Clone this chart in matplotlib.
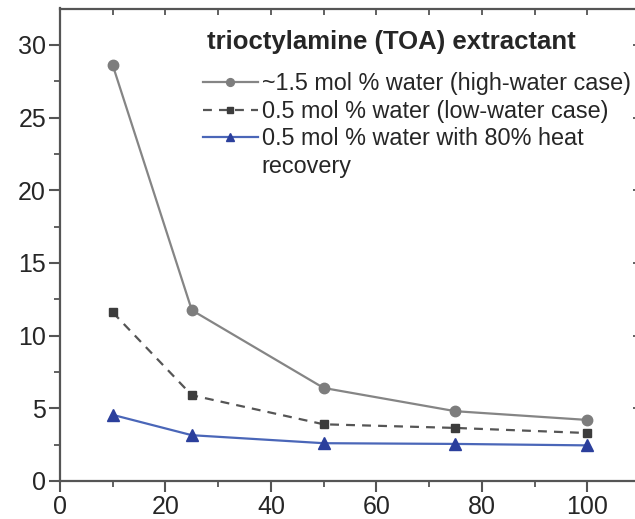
import matplotlib
matplotlib.use("Agg")
import matplotlib.pyplot as plt
from matplotlib.lines import Line2D

plt.rcParams['font.family'] = ['Liberation Sans', 'DejaVu Sans']

# data
x_vals = [10, 25, 50, 75, 100]
high_water = [28.6, 11.75, 6.4, 4.8, 4.2]
low_water = [11.6, 5.9, 3.9, 3.65, 3.3]
heat_recov = [4.55, 3.15, 2.6, 2.55, 2.45]

labels = ["~1.5 mol % water (high-water case)",
          "0.5 mol % water (low-water case)",
          "0.5 mol % water with 80% heat",
          "recovery"]
legend_title = "trioctylamine (TOA) extractant"

txt = '#262626'
spine_c = '#555555'

fig = plt.figure(figsize=(6.35, 5.19), dpi=100)
W, H = 635, 519
ax = fig.add_axes([60 / W, (H - 481) / H, 580 / W, (481 - 8.5) / H])

l1, = ax.plot(x_vals, high_water, color='#858585', lw=1.6, marker='o', ms=7.5,
              mfc='#7d7d7d', mec='#7d7d7d')
l2, = ax.plot(x_vals, low_water, color='#555555', lw=1.6, ls=(0, (4, 3.2)),
              marker='s', ms=6, mfc='#3c3c3c', mec='#3c3c3c')
l3, = ax.plot(x_vals, heat_recov, color='#4a66b8', lw=1.6, marker='^', ms=8,
              mfc='#2b3f9c', mec='#2b3f9c')
blank = Line2D([], [], color='none')

ax.set_xlim(0, 110)
ax.set_ylim(0, 32.5)
ax.set_xticks([0, 20, 40, 60, 80, 100])
ax.set_xticks([10, 30, 50, 70, 90], minor=True)
ax.set_yticks([0, 5, 10, 15, 20, 25, 30])
ax.set_yticks([2.5, 7.5, 12.5, 17.5, 22.5, 27.5], minor=True)

for s in ax.spines.values():
    s.set_color(spine_c)
    s.set_linewidth(1.6)

ax.tick_params(which='major', direction='out', length=8, width=1.5,
               color=spine_c, labelsize=18, labelcolor=txt, pad=2)
ax.tick_params(which='minor', direction='out', length=4, width=1.3, color=spine_c)

top = ax.secondary_xaxis('top')
top.set_xticks([0, 20, 40, 60, 80, 100])
top.set_xticks([10, 30, 50, 70, 90], minor=True)
top.tick_params(which='both', direction='in', length=5, width=1.3,
                color=spine_c, labeltop=False)
top.spines['top'].set_visible(False)

right = ax.secondary_yaxis('right')
right.set_yticks([0, 5, 10, 15, 20, 25, 30])
right.tick_params(which='both', direction='in', length=5, width=1.3,
                  color=spine_c, labelright=False)
right.spines['right'].set_visible(False)

fig.text(207 / W, (H - 42) / H, legend_title, fontsize=18.5, fontweight='bold',
         color=txt, ha='left', va='center')

leg = ax.legend([l1, l2, l3, blank], labels,
                loc='upper left', bbox_to_anchor=(203 / W, (H - 72) / H),
                bbox_transform=fig.transFigure, frameon=False,
                fontsize=16.8, handlelength=2.35, handletextpad=0.17,
                labelspacing=0.2, borderpad=0, borderaxespad=0,
                markerscale=0.75)
for t in leg.get_texts():
    t.set_color(txt)

fig.savefig('out.png', dpi=100)
